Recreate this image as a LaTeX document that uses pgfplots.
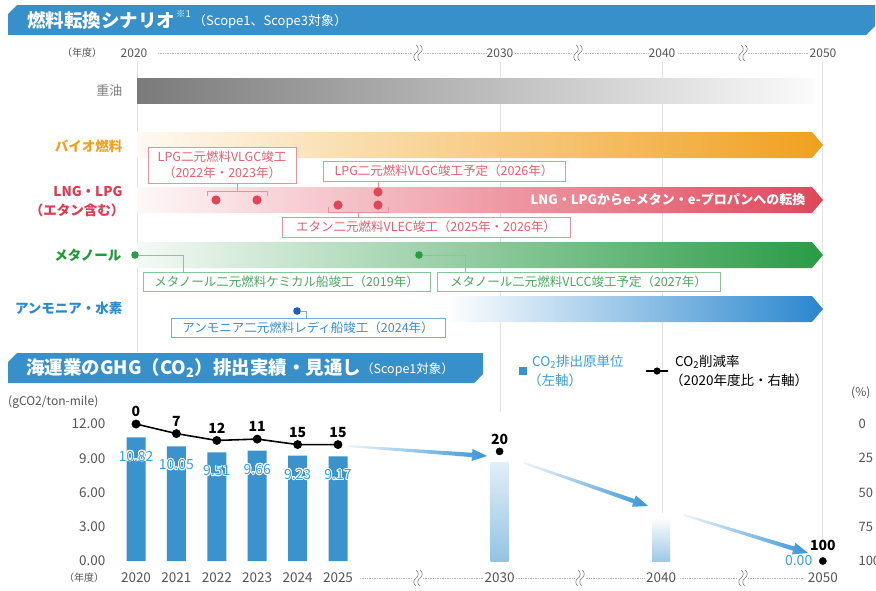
\documentclass[border=0pt]{standalone}
\usepackage{pgfplots}
\pgfplotsset{compat=1.18}
\usepackage{fontspec}
\setmainfont{Noto Sans CJK JP}
\usepackage[copies]{contour}
\contourlength{0.9pt}
\usetikzlibrary{calc}

\definecolor{hdr}{HTML}{3790C9}
\definecolor{barblue}{HTML}{3A93CC}
\definecolor{orng}{HTML}{F0A01E}
\definecolor{rd}{HTML}{E0465A}
\definecolor{rdlab}{HTML}{E23A50}
\definecolor{rdbox}{HTML}{EE8F9B}
\definecolor{rdtxt}{HTML}{E5606F}
\definecolor{grn}{HTML}{2A9B46}
\definecolor{grnlab}{HTML}{1F9A3A}
\definecolor{grnbox}{HTML}{86C795}
\definecolor{grntxt}{HTML}{4DA862}
\definecolor{blu}{HTML}{2A86CE}
\definecolor{blulab}{HTML}{2A8AD0}
\definecolor{blubox}{HTML}{74AEDF}
\definecolor{blutxt}{HTML}{3D8FD0}
\definecolor{bludot}{HTML}{1A5FB8}
\definecolor{txtgray}{HTML}{555555}
\definecolor{vline}{HTML}{E3E3E3}
\definecolor{lblblue}{HTML}{3C9EDF}
\definecolor{arrowblue}{HTML}{3A95D6}
\definecolor{darkgray}{HTML}{7A7A7A}

\newcommand{\fs}[1]{\fontsize{#1}{#1}\selectfont}

\newcommand{\brk}[2]{%
  \fill[white] (#1-5,#2-9) rectangle (#1+5,#2+9);
  \foreach \o in {-2,2}{%
    \draw[gray, line width=0.6pt] (#1+\o,#2-8) .. controls (#1+\o+3,#2-6) and (#1+\o+3,#2-2) .. (#1+\o,#2) .. controls (#1+\o-3,#2+2) and (#1+\o-3,#2+6) .. (#1+\o,#2+8);}%
}

\newcommand{\flowarrow}[4]{%
  \coordinate (FA) at (#1,#2); \coordinate (FB) at (#3,#4);
  \coordinate (FH) at ($(FB)!15pt!(FA)$);
  \shade[left color=white!90!arrowblue, right color=arrowblue]
    ($(FA)!1pt!90:(FB)$) -- ($(FH)!2.2pt!-90:(FA)$) -- ($(FH)!6pt!-90:(FA)$) -- (FB)
    -- ($(FH)!6pt!90:(FA)$) -- ($(FH)!2.2pt!90:(FA)$) -- ($(FA)!1pt!-90:(FB)$) -- cycle;
}

\begin{document}
\begin{tikzpicture}
\useasboundingbox (0pt,0pt) rectangle (876pt,-590pt);
\fill[white] (0pt,0pt) rectangle (876pt,-590pt);

\begin{scope}[x=1pt,y=-1pt]
% vertical guide lines
\draw[vline, line width=0.8pt] (137,62) -- (137,352);
\draw[vline, line width=0.8pt] (500,62) -- (500,412);
\draw[vline, line width=0.8pt] (662,62) -- (662,513);
\draw[vline, line width=0.8pt] (822,62) -- (822,540);

% top header
\fill[hdr] (8,14) -- (17,5) -- (875,5) -- (875,26) -- (866,35) -- (8,35) -- cycle;
\node[anchor=west, text=white, font=\fs{18.5}\bfseries, inner sep=0] at (27,20) {燃料転換シナリオ};
\node[anchor=west, text=white, font=\fs{9.5}, inner sep=0] at (176,14) {※1};
\node[anchor=west, text=white, font=\fs{13}, inner sep=0] at (193,21) {（Scope1、Scope3対象）};

% year row
\node[text=txtgray, font=\fs{10}] at (82,53) {（年度）};
\draw[gray!55, densely dotted, line width=0.7pt] (158,53) -- (487,53);
\draw[gray!55, densely dotted, line width=0.7pt] (515,53) -- (648,53);
\draw[gray!55, densely dotted, line width=0.7pt] (678,53) -- (808,53);
\brk{418}{53}\brk{578}{53}\brk{743}{53}
\node[text=txtgray, font=\fs{12}] at (134,53) {2020};
\node[text=txtgray, font=\fs{12}] at (500,53) {2030};
\node[text=txtgray, font=\fs{12}] at (662,53) {2040};
\node[text=txtgray, font=\fs{12}] at (823,53) {2050};

% rows
\shade[left color=darkgray, right color=white!97!gray] (137,78) rectangle (815,103);
\node[anchor=east, text=gray, font=\fs{13}] at (126,91) {重油};

\shade[left color=orng!6, right color=orng] (137,132) -- (812,132) -- (823,145) -- (812,158) -- (137,158) -- cycle;
\node[anchor=east, text=orng, font=\fs{13.5}\bfseries] at (126,146) {バイオ燃料};

\shade[left color=rd!4, right color=rd] (137,187) -- (812,187) -- (823,200) -- (812,213) -- (137,213) -- cycle;
\node[anchor=east, text=white, font=\fs{13}\bfseries] at (809,200) {LNG・LPGからe-メタン・e-プロパンへの転換};
\node[anchor=east, text=rdlab, font=\fs{13.5}\bfseries] at (126,191) {LNG・LPG};
\node[anchor=east, text=rdlab, font=\fs{13.5}\bfseries] at (128,210) {（エタン含む）};

\shade[left color=grn!5, right color=grn] (137,242) -- (812,242) -- (823,255) -- (812,268) -- (137,268) -- cycle;
\node[anchor=east, text=grnlab, font=\fs{13.5}\bfseries] at (125,255) {メタノール};

\shade[left color=white, right color=blu] (445,296) -- (812,296) -- (823,309) -- (812,322) -- (445,322) -- cycle;
\node[anchor=east, text=blulab, font=\fs{13.5}\bfseries] at (126,308) {アンモニア・水素};

% red callouts
\draw[rdbox, line width=0.8pt] (237,183) -- (237,191);
\draw[rdbox, line width=0.8pt] (207,196) -- (207,191) -- (267,191) -- (267,196);
\draw[rdbox, line width=0.8pt, fill=white] (148,147) rectangle (296,183);
\node[text=rdtxt, font=\fs{12.5}] at (222,157) {LPG二元燃料VLGC竣工};
\node[text=rdtxt, font=\fs{12.5}] at (222,173) {（2022年・2023年）};
\draw[rdbox, line width=0.8pt] (378,181) -- (378,190);
\draw[rdbox, line width=0.8pt, fill=white] (323,161) rectangle (565,181);
\node[text=rdtxt, font=\fs{12.5}] at (444,171) {LPG二元燃料VLGC竣工予定（2026年）};
\draw[rdbox, line width=0.8pt] (328,207) -- (328,212) -- (388,212) -- (388,207);
\draw[rdbox, line width=0.8pt] (358,212) -- (358,217);
\draw[rdbox, line width=0.8pt, fill=white] (282,217) rectangle (570,237);
\node[text=rdtxt, font=\fs{12.5}] at (426,227) {エタン二元燃料VLEC竣工（2025年・2026年）};
\foreach \p in {(216,200),(257,200),(378,192),(378,205),(338,205)} \fill[rd] \p circle (4.6);

% green callouts
\draw[grnbox, line width=0.8pt] (139,255) -- (183,255) -- (183,272);
\draw[grnbox, line width=0.8pt] (423,255) -- (465,255) -- (465,272);
\fill[grn] (135,255) circle (3.8);
\fill[grn] (419,255) circle (3.8);
\draw[grnbox, line width=0.8pt, fill=white] (143,272) rectangle (430,291);
\node[text=grntxt, font=\fs{12.5}] at (286.5,281.5) {メタノール二元燃料ケミカル船竣工（2019年）};
\draw[grnbox, line width=0.8pt, fill=white] (437,272) rectangle (720,291);
\node[text=grntxt, font=\fs{12.5}] at (578.5,281.5) {メタノール二元燃料VLCC竣工予定（2027年）};

% blue callout
\draw[blubox, line width=0.8pt] (301,311) -- (306,311) -- (306,318);
\fill[bludot] (297,311) circle (3.8);
\draw[blubox, line width=0.8pt, fill=white] (171,318) rectangle (445,337);
\node[text=blutxt, font=\fs{12.5}] at (308,327.5) {アンモニア二元燃料レディ船竣工（2024年）};

% bottom header
\fill[hdr] (8,362) -- (17,353) -- (483,353) -- (483,374) -- (474,383) -- (8,383) -- cycle;
\node[anchor=west, text=white, font=\fs{18.5}\bfseries, inner sep=0] at (26,368) {海運業のGHG（CO\textsubscript{2}）排出実績・見通し};
\node[anchor=west, text=white, font=\fs{12.5}, inner sep=0] at (361,370) {（Scope1対象）};

% legend
\fill[barblue] (519,367) rectangle (527,375);
\node[anchor=west, text=lblblue, font=\fs{13.5}, inner sep=0] at (532,362) {CO\textsubscript{2}排出原単位};
\node[anchor=west, text=lblblue, font=\fs{13.5}, inner sep=0] at (528,380) {（左軸）};
\draw[black, line width=1.5pt] (646,371) -- (668,371);
\fill[black] (657,371) circle (3.6);
\node[anchor=west, text=black, font=\fs{13.5}, inner sep=0] at (675,362) {CO\textsubscript{2}削減率};
\node[anchor=west, text=black, font=\fs{13.5}, inner sep=0] at (670,380) {（2020年度比・右軸）};

\node[anchor=west, text=txtgray, font=\fs{12}, inner sep=0] at (8,402) {(gCO2/ton-mile)};
\node[anchor=west, text=txtgray, font=\fs{12}, inner sep=0] at (851,393) {(\%)};

% bottom year axis decorations
\node[text=txtgray, font=\fs{10}] at (84,578) {（年度）};
\draw[gray!55, densely dotted, line width=0.7pt] (360,578) -- (484,578);
\draw[gray!55, densely dotted, line width=0.7pt] (516,578) -- (644,578);
\draw[gray!55, densely dotted, line width=0.7pt] (680,578) -- (804,578);
\brk{418}{578}\brk{580}{578}\brk{743}{578}
\end{scope}

% left axis: emission intensity bars
\begin{axis}[
  at={(106pt,-561pt)}, anchor=south west,
  scale only axis, width=749pt, height=137pt,
  xmin=-0.7426, xmax=17.797, ymin=0, ymax=12,
  clip=false,
  axis line style={draw=none}, tick style={draw=none}, major tick length=0pt,
  /pgf/number format/assume math mode=true,
  xtick={0,1,2,3,4,5,9,13,17},
  xticklabels={2020,2021,2022,2023,2024,2025,2030,2040,2050},
  xticklabel style={anchor=center, yshift=-17pt, font=\fs{13.5}, text=txtgray},
  ytick={0,3,6,9,12},
  yticklabel style={font=\fs{13.5}, text=txtgray, xshift=3pt,
    /pgf/number format/fixed, /pgf/number format/fixed zerofill, /pgf/number format/precision=2},
]
\addplot[ybar, bar width=19pt, bar shift=0pt, fill=barblue, draw=none]
  coordinates {(0,10.82) (1,10.05) (2,9.51) (3,9.66) (4,9.23) (5,9.17)};
\addplot[ybar, bar width=18pt, bar shift=0pt, draw=none, top color=white!85!barblue, bottom color=white!45!barblue]
  coordinates {(9,8.66)};
\addplot[ybar, bar width=18pt, bar shift=0pt, draw=none, top color=white, bottom color=white!50!barblue]
  coordinates {(13,3.85)};
\node[yshift=-19pt, text=lblblue, font=\fs{14}] at (axis cs:0,10.82) {\contour{white}{10.82}};
\node[yshift=-19pt, text=lblblue, font=\fs{14}] at (axis cs:1,10.05) {\contour{white}{10.05}};
\node[yshift=-19pt, text=lblblue, font=\fs{14}] at (axis cs:2,9.51) {\contour{white}{9.51}};
\node[yshift=-19pt, text=lblblue, font=\fs{14}] at (axis cs:3,9.66) {\contour{white}{9.66}};
\node[yshift=-19pt, text=lblblue, font=\fs{14}] at (axis cs:4,9.23) {\contour{white}{9.23}};
\node[yshift=-19pt, text=lblblue, font=\fs{14}] at (axis cs:5,9.17) {\contour{white}{9.17}};
\node[anchor=east, xshift=-7pt, yshift=1pt, text=lblblue, font=\fs{14}] at (axis cs:17,0) {0.00};
\end{axis}

% right axis: reduction rate line
\begin{axis}[
  at={(106pt,-561pt)}, anchor=south west,
  scale only axis, width=749pt, height=137pt,
  xmin=-0.7426, xmax=17.797, ymin=0, ymax=100, y dir=reverse,
  clip=false, axis x line=none, axis y line*=right,
  axis line style={draw=none}, tick style={draw=none}, major tick length=0pt,
  /pgf/number format/assume math mode=true,
  ytick={0,25,50,75,100},
  yticklabel style={anchor=west, font=\fs{13}, text=txtgray},
  nodes near coords,
  every node near coord/.append style={font=\fs{14}\bfseries, text=black, yshift=3pt},
]
\addplot[black, line width=1.6pt, mark=*, mark size=3.6pt, mark options={fill=black}]
  coordinates {(0,0) (1,7) (2,12) (3,11) (4,15) (5,15)};
\addplot[black, only marks, mark=*, mark size=3.6pt, mark options={fill=black}]
  coordinates {(9,20)};
\addplot[black, only marks, mark=*, mark size=3.6pt, mark options={fill=black},
  every node near coord/.append style={yshift=4pt}]
  coordinates {(17,100)};
\end{axis}

\begin{scope}[x=1pt,y=-1pt]
\flowarrow{348}{446}{487}{456}
\flowarrow{524}{463}{648}{506}
\flowarrow{684}{515}{808}{553}
\end{scope}
\end{tikzpicture}
\end{document}
